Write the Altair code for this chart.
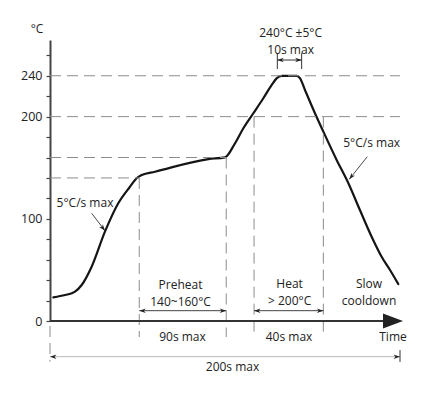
import math
import altair as alt
import pandas as pd

# ---------------- data (time in s, temperature in °C) ----------------
curve_time = [1.9, 8.6, 14.3, 18.1, 23.8, 31.4, 39.0, 45.7, 49.5, 52.4, 60.0, 90.5,
              100.0, 105.7, 110.5, 116.2, 121.9, 126.7, 129.5, 132.4, 141.0, 142.9,
              145.7, 151.4, 156.2, 163.8, 170.5, 177.1, 183.8, 189.5, 194.3, 199.0]
curve_temp = [23.2, 25.4, 28.7, 35.2, 53.1, 87.4, 115.2, 131.4, 139.7, 142.9, 146.1, 158.5,
              160.2, 173.9, 188.6, 203.3, 218.0, 231.0, 237.5, 239.8, 239.8, 237.5,
              226.1, 203.3, 185.3, 157.6, 134.8, 108.6, 82.5, 62.9, 49.9, 36.2]

y_tick_values = list(range(0, 261, 20))
y_tick_labels = [0, 100, 200, 240]

# horizontal dashed guides
hguide_temp = [240, 200, 160, 140]
hguide_end = [200, 200, 100.7, 51.0]
# vertical dashed guides
vguide_time = [51.0, 100.7, 116.6, 156.2, 0.0]
vguide_top = [140, 160, 200, 200, -4.9]
vguide_bottom = [-15.7, -15.7, -15.7, -15.7, -39.8]

# double-headed dimension arrows: start/end time, level
dim_t1 = [129.9, 51.0, 116.6, 0.0]
dim_t2 = [143.8, 100.7, 156.2, 200.0]
dim_T = [255.4, 10.1, 10.1, -34.9]
dim_color = ["#333333", "#444444", "#444444", "#bbbbbb"]

# end ticks of dimension arrows
etick_time = [129.9, 143.8, 200.0]
etick_top = [262.0, 262.0, -28.4]
etick_bottom = [246.6, 246.6, -40.1]

# slope pointer arrows (from, to tip)
ptr_t1 = [23.8, 181.3]
ptr_T1 = [105.4, 160.8]
ptr_t2 = [31.4, 171.0]
ptr_T2 = [88.4, 138.7]

# axis end
time_axis_end = 190.3
time_arrow_tip = 201.7

# text labels
txt_label = ["°C", "240°C ±5°C\n10s max", "5°C/s max", "5°C/s max", "Preheat\n140~160°C",
             "90s max", "Heat\n> 200°C", "40s max", "Slow\ncooldown", "Time", "200s max"]
txt_time = [-7.4, 137.5, 20.0, 183.8, 74.6, 75.7, 136.9, 136.6, 182.3, 196.0, 104.3]
txt_temp = [285.8, 281.6, 115.2, 174.5, 35.0, -15.7, 36.0, -15.7, 36.2, -15.4, -44.7]

# ---------------- chart ----------------
W, H = 350, 281
XDOM, YDOM = [0, 200], [0, 275]
KX, KY = W / (XDOM[1] - XDOM[0]), H / (YDOM[1] - YDOM[0])
FONT = "Open Sans"

label_test = " || ".join(f"datum.value == {v}" for v in y_tick_labels)
YAXIS = alt.Axis(
    values=y_tick_values,
    labelExpr=f"({label_test}) ? datum.label : ''",
    title=None, grid=False, tickSize=4, tickWidth=1.2, tickColor="#444444",
    domainColor="#444444", domainWidth=2, labelFont=FONT, labelFontSize=12.5,
    labelColor="#222222", labelPadding=4, labelOverlap=False,
)


def X(f):
    return alt.X(f, type="quantitative", scale=alt.Scale(domain=XDOM, nice=False, zero=False), axis=None)


def Y(f):
    return alt.Y(f, type="quantitative", scale=alt.Scale(domain=YDOM, nice=False, zero=False), axis=YAXIS)


dash = [11, 6]
guide_color = "#8c8c8c"

hg = alt.Chart(pd.DataFrame({"t1": [0.0] * len(hguide_temp), "t2": hguide_end, "T": hguide_temp})).mark_rule(
    strokeDash=dash, color=guide_color, strokeWidth=1
).encode(x=X("t1"), x2=alt.X2("t2"), y=Y("T"))

vg = alt.Chart(pd.DataFrame({"t": vguide_time, "T1": vguide_top, "T2": vguide_bottom})).mark_rule(
    strokeDash=dash, color=guide_color, strokeWidth=1
).encode(x=X("t"), y=Y("T1"), y2=alt.Y2("T2"))

curve = alt.Chart(pd.DataFrame({"t": curve_time, "T": curve_temp})).mark_line(
    interpolate="monotone", color="#151515", strokeWidth=2.2, strokeCap="round"
).encode(x=X("t"), y=Y("T"))

axis_line = alt.Chart(pd.DataFrame({"t1": [0.0], "t2": [time_axis_end], "T": [0.0]})).mark_rule(
    color="#333333", strokeWidth=2
).encode(x=X("t1"), x2=alt.X2("t2"), y=Y("T"))

axis_arrow = alt.Chart(pd.DataFrame({"t": [time_arrow_tip], "T": [0.0]})).mark_point(
    shape="M0,0 L-2,-0.75 L-2,0.75 Z", size=400, filled=True, color="#222222", opacity=1
).encode(x=X("t"), y=Y("T"))

dims = alt.Chart(pd.DataFrame({"t1": dim_t1, "t2": dim_t2, "T": dim_T, "c": dim_color})).mark_rule(
    strokeWidth=1
).encode(x=X("t1"), x2=alt.X2("t2"), y=Y("T"), color=alt.Color("c:N", scale=None),
         strokeWidth=alt.condition("datum.c == '#bbbbbb'", alt.value(2), alt.value(1)))

eticks = alt.Chart(pd.DataFrame({"t": etick_time, "T1": etick_top, "T2": etick_bottom})).mark_rule(
    color="#333333", strokeWidth=1
).encode(x=X("t"), y=Y("T1"), y2=alt.Y2("T2"))

ptrs = alt.Chart(pd.DataFrame({"t1": ptr_t1, "T1": ptr_T1, "t2": ptr_t2, "T2": ptr_T2})).mark_rule(
    color="#333333", strokeWidth=0.9
).encode(x=X("t1"), y=Y("T1"), x2=alt.X2("t2"), y2=alt.Y2("T2"))

# arrowheads: tips at the ends of dimension arrows and pointers
head_t, head_T, head_ang = [], [], []
for a, b, lv in zip(dim_t1, dim_t2, dim_T):
    head_t += [a, b]
    head_T += [lv, lv]
    head_ang += [180.0, 0.0]
for a, A, b, B in zip(ptr_t1, ptr_T1, ptr_t2, ptr_T2):
    head_t.append(b)
    head_T.append(B)
    head_ang.append(math.degrees(math.atan2(-(B - A) * KY, (b - a) * KX)))

heads = alt.Chart(pd.DataFrame({"t": head_t, "T": head_T, "ang": head_ang})).mark_point(
    shape="M0,0 L-2,-0.7 L-1.4,0 L-2,0.7 Z", size=42, filled=True, color="#222222", opacity=1
).encode(x=X("t"), y=Y("T"), angle=alt.Angle("ang:Q", scale=None))

texts = alt.Chart(pd.DataFrame({"t": txt_time, "T": txt_temp, "s": txt_label})).mark_text(
    font=FONT, fontSize=12, color="#222222", align="center", baseline="middle",
    lineBreak="\n", lineHeight=16.5
).encode(x=X("t"), y=Y("T"), text="s:N")

chart = alt.layer(curve, hg, vg, dims, eticks, ptrs, heads, axis_line, axis_arrow, texts).properties(
    width=W, height=H,
    autosize=alt.AutoSizeParams(type="none"),
    padding={"left": 42, "top": 32, "right": 20, "bottom": 64},
).configure_view(stroke=None)

chart.save("out.html", embed_options={"renderer": "svg", "actions": False})
